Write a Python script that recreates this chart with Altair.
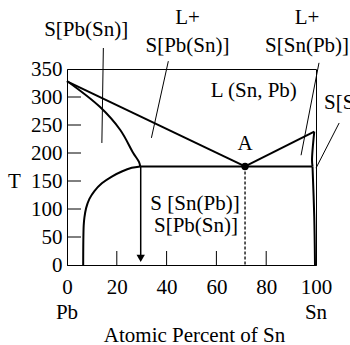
import altair as alt
import pandas as pd

FONT = "'Liberation Serif', 'DejaVu Serif', Times, serif"
FS = 21

# ---- phase boundary data (x = atomic % Sn, t = temperature) ----
liq_left_x = [0, 71.5]
liq_left_t = [328, 176]
liq_right_x = [71.5, 99.3]
liq_right_t = [176, 238]
sol_left_x = [0, 13.3, 21.4, 26.6, 28.9, 29.4]
sol_left_t = [328.6, 282, 241, 200, 184, 176]
solv_left_x = [29.4, 26, 22, 18, 14, 11, 9, 7.7, 7, 6.7, 6.5]
solv_left_t = [176, 173.5, 167, 158, 146, 132, 118, 102, 85, 70, 0]
sol_right_x = [99.3, 98.4, 98.6]
sol_right_t = [238, 187.5, 176]
solv_right_x = [98.6, 99.3, 99.6]
solv_right_t = [176, 86, 0]
eutectic_x = [29.4, 98.6]
eutectic_t = [176, 176]

eut_point_x = [71.5]
eut_point_t = [176]

arrow_x = 29.6
arrow_top = 176
arrow_tip = 12

x_ticks = [0, 20, 40, 60, 80, 100]
y_ticks = [0, 50, 100, 150, 200, 250, 300, 350]
inner_x_ticks = [20, 40, 60, 80]
inner_y_ticks = [50, 100, 150, 200, 250, 300]

# pointer lines (data coords)
ptr_x = [14.6, 40.7, 101.2, 109.3]
ptr_t = [387.5, 364, 361, 253.6]
ptr_x2 = [14.0, 33.9, 94.0, 100.0]
ptr_t2 = [217.9, 227, 196, 173]

# region labels
lab_text = ["S[Pb(Sn)]", "L+", "S[Pb(Sn)]", "L+", "S[Sn(Pb)]", "L (Sn, Pb)",
            "S [Sn(Pb)]", "S[Pb(Sn)]"]
lab_x = [7.7, 48.4, 48.4, 96.4, 96.4, 75.0, 51.4, 51.8]
lab_t = [419.6, 441, 391, 441, 391, 310.7, 109, 69]

lab_left_text = ["S[Sn(Pb)]"]
lab_left_x = [103.2]
lab_left_t = [289]

end_labels = ["Pb", "Sn"]
end_x = [0, 100]

# ---- build tables ----
curves = []
for name, xs, ts in [("liqL", liq_left_x, liq_left_t), ("liqR", liq_right_x, liq_right_t),
                     ("solL", sol_left_x, sol_left_t), ("solvL", solv_left_x, solv_left_t),
                     ("solR", sol_right_x, sol_right_t), ("solvR", solv_right_x, solv_right_t),
                     ("eut", eutectic_x, eutectic_t)]:
    for i, (a, b) in enumerate(zip(xs, ts)):
        curves.append({"curve": name, "i": i, "x": a, "t": b})
curves = pd.DataFrame(curves)

xscale = alt.Scale(domain=[0, 100], nice=False, zero=False)
yscale = alt.Scale(domain=[0, 350], nice=False, zero=False)

xaxis = alt.Axis(
    values=x_ticks, title="Atomic Percent of Sn", grid=False, tickSize=0,
    labelFont=FONT, labelFontSize=FS, labelColor="black", labelPadding=11,
    titleFont=FONT, titleFontSize=FS, titleFontWeight="normal", titleColor="black",
    titleY=70, titleX=127, titleBaseline="middle",
    domainColor="black", domainWidth=1, labelFlush=False)
yaxis = alt.Axis(
    values=y_ticks, title="T", grid=False, tickSize=0,
    labelFont=FONT, labelFontSize=FS, labelColor="black", labelPadding=5,
    titleFont=FONT, titleFontSize=FS, titleFontWeight="normal", titleColor="black",
    titleAngle=0, titleX=-53, titleY=112, titleAlign="center", titleBaseline="middle",
    domainColor="black", domainWidth=1, labelFlush=False)
X = alt.X("x:Q", scale=xscale, axis=xaxis)
Y = alt.Y("t:Q", scale=yscale, axis=yaxis)

lines = alt.Chart(curves).mark_line(color="black", strokeWidth=2, interpolate="catmull-rom").encode(
    x=X, y=Y, detail="curve:N", order="i:Q")

ptrs = alt.Chart(pd.DataFrame({"x": ptr_x, "t": ptr_t, "x2": ptr_x2, "t2": ptr_t2})).mark_rule(
    color="black", strokeWidth=1).encode(x=X, y=Y, x2="x2:Q", y2="t2:Q")

dashed = alt.Chart(pd.DataFrame({"x": eut_point_x, "t": eut_point_t, "t2": [0]})).mark_rule(
    color="black", strokeWidth=1.3, strokeDash=[3, 2]).encode(x=X, y=Y, y2="t2:Q")

arrow_line = alt.Chart(pd.DataFrame({"x": [arrow_x], "t": [arrow_top], "t2": [arrow_tip]})).mark_rule(
    color="black", strokeWidth=1.5).encode(x=X, y=Y, y2="t2:Q")
arrow_head = alt.Chart(pd.DataFrame({"x": [arrow_x], "t": [arrow_tip]})).mark_point(
    shape="triangle-down", filled=True, color="black", size=70, opacity=1).encode(x=X, y=Y)

point = alt.Chart(pd.DataFrame({"x": eut_point_x, "t": eut_point_t, "lab": ["A"]}))
pt = point.mark_circle(color="black", size=55, opacity=1).encode(x=X, y=Y)
pt_lab = point.mark_text(font=FONT, fontSize=FS, color="black", baseline="middle", dy=-22).encode(
    x=X, y=Y, text="lab:N")

ytk = alt.Chart(pd.DataFrame({"t": inner_y_ticks})).mark_rule(color="black", strokeWidth=1).encode(
    y=Y, x=alt.value(0), x2=alt.value(14))
xtk = alt.Chart(pd.DataFrame({"x": inner_x_ticks})).mark_rule(color="black", strokeWidth=1).encode(
    x=X, y=alt.value(196), y2=alt.value(182))

labels = alt.Chart(pd.DataFrame({"x": lab_x, "t": lab_t, "s": lab_text})).mark_text(
    font=FONT, fontSize=FS, color="black", align="center", baseline="middle").encode(
    x=X, y=Y, text="s:N")
labels_l = alt.Chart(pd.DataFrame({"x": lab_left_x, "t": lab_left_t, "s": lab_left_text})).mark_text(
    font=FONT, fontSize=FS, color="black", align="left", baseline="middle").encode(
    x=X, y=Y, text="s:N")
ends = alt.Chart(pd.DataFrame({"x": end_x, "s": end_labels})).mark_text(
    font=FONT, fontSize=FS, color="black", align="center", baseline="middle").encode(
    x=X, y=alt.value(244), text="s:N")

chart = alt.layer(lines, ptrs, dashed, arrow_line, arrow_head, pt, pt_lab, ytk, xtk,
                  labels, labels_l, ends).properties(
    width=249, height=196,
    autosize=alt.AutoSizeParams(type="none"),
    padding={"left": 67, "top": 69, "right": 34, "bottom": 80},
    background="white",
).configure_view(stroke="black", strokeWidth=1)

chart.save("out.html", embed_options={"renderer": "svg", "actions": False})
